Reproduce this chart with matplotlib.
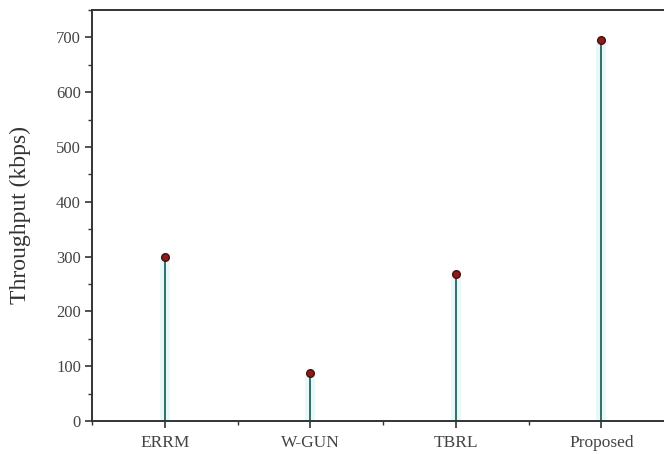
import numpy as np
import matplotlib.pyplot as plt
from matplotlib.ticker import MultipleLocator

# data
methods = ["ERRM", "W-GUN", "TBRL", "Proposed"]
throughput = [299, 87, 269, 695]

plt.rcParams['font.family'] = ['Liberation Serif', 'DejaVu Serif']

fig = plt.figure(figsize=(6.64, 4.54), dpi=100)
ax = fig.add_axes([0.1386, 0.0727, 0.8765, 0.9053])

x = np.arange(1, len(methods) + 1)

# faint glow behind stems
ax.vlines(x, 0, throughput, color='#e8f8f8', linewidth=7, zorder=1)
ax.vlines(x, 0, throughput, color='#2f6f6b', linewidth=1.4, zorder=2)
ax.plot(x, throughput, 'o', color='#8a1c1c', markeredgecolor='#4a0d0d',
        markersize=5.5, zorder=3)

ax.set_xlim(0.5, 4.5)
ax.set_ylim(0, 750)
ax.set_xticks(x)
ax.set_xticklabels(methods)
ax.xaxis.set_minor_locator(MultipleLocator(0.5))
ax.yaxis.set_major_locator(MultipleLocator(100))
ax.yaxis.set_minor_locator(MultipleLocator(50))
ax.set_ylabel('Throughput (kbps)', fontsize=17, color='#333333')
ax.yaxis.set_label_coords(-0.105, 0.5)

ax.tick_params(which='major', direction='out', length=5, width=1.2,
               labelcolor='#444444', color='#333333')
ax.tick_params(axis='x', which='major', labelsize=12.5, pad=5)
ax.tick_params(axis='y', which='major', labelsize=12, pad=3)
ax.tick_params(which='minor', direction='out', length=3, width=1, color='#333333')
for side in ['left', 'bottom', 'top']:
    ax.spines[side].set_linewidth(1.4)
    ax.spines[side].set_color('#333333')
ax.spines['right'].set_visible(False)

fig.savefig('out.png', dpi=100)
